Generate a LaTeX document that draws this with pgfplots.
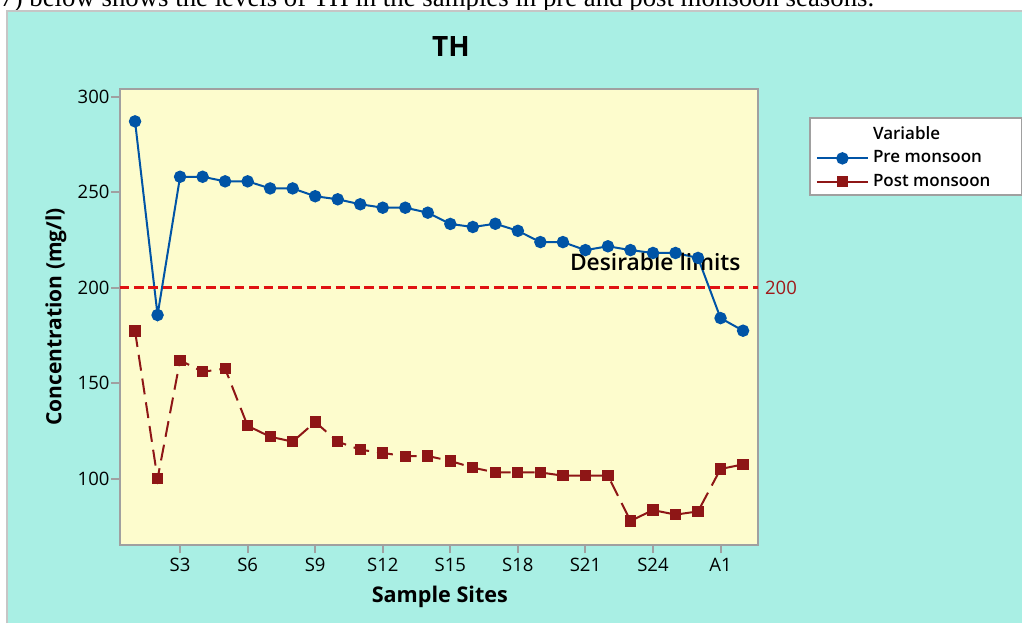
\documentclass[border=0pt]{standalone}
\usepackage{pgfplots}
\pgfplotsset{compat=1.18}
\usepackage{fontspec}
\setmainfont{Open Sans}
\newfontfamily\timesf{Liberation Serif}
\IfFontExistsTF{Open Sans SemiBold}
  {\newfontfamily\semib{Open Sans SemiBold}}
  {\IfFontExistsTF{Open Sans Semibold}
    {\newfontfamily\semib{Open Sans Semibold}}
    {\newfontfamily\semib{Open Sans}}}

\definecolor{cyanbg}{RGB}{169,239,228}
\definecolor{plotyellow}{RGB}{253,252,205}
\definecolor{preblue}{RGB}{0,84,166}
\definecolor{postred}{RGB}{142,22,22}
\definecolor{refred}{RGB}{224,18,18}
\definecolor{labelred}{RGB}{160,25,25}
\definecolor{axisgrey}{RGB}{160,160,160}

\pgfplotstableread{
x y
1 287.1
2 185.7
3 258.1
4 258.1
5 255.7
6 255.7
7 252.0
8 252.0
9 247.9
10 246.3
11 243.7
12 241.9
13 241.9
14 239.3
15 233.4
16 231.8
17 233.5
18 229.8
19 223.9
20 223.9
21 219.7
22 221.7
23 219.7
24 218.2
25 218.2
26 215.6
27 184.1
28 177.5
}\pretable

\pgfplotstableread{
x y
1 177.3
2 100.0
3 162.0
4 156.0
5 157.6
6 127.7
7 122.0
8 119.4
9 129.7
10 119.4
11 115.2
12 113.5
13 111.8
14 111.9
15 109.3
16 105.8
17 103.3
18 103.3
19 103.3
20 101.6
21 101.6
22 101.6
23 77.9
24 83.6
25 81.2
26 82.9
27 105.1
28 107.5
}\posttable

\begin{document}
\begin{tikzpicture}
\useasboundingbox (0,0) rectangle (511pt,311.5pt);
\clip (0,0) rectangle (511pt,311.5pt);
\fill[white] (0,0) rectangle (511pt,311.5pt);
\node[anchor=base west, inner sep=0pt, font=\timesf\fontsize{13.4}{16}\selectfont]
  at (0pt,308.5pt) {7) below shows the levels of TH in the samples in pre and post monsoon seasons.};
\fill[cyanbg] (3.5pt,0) rectangle (511pt,305.75pt);
\draw[gray!45, line width=1pt] (3.5pt,0) -- (3.5pt,305.75pt) -- (512pt,305.75pt);

\begin{axis}[
  at={(59.75pt,39pt)},
  anchor=south west,
  width=319.1pt,
  height=228.15pt,
  scale only axis,
  clip=false,
  xmin=0.31, xmax=28.65,
  ymin=65.3, ymax=304.2,
  axis background/.style={fill=plotyellow},
  axis line style={draw=axisgrey, line width=1pt},
  tick style={draw=axisgrey, line width=1pt},
  tick align=outside,
  tick pos=left,
  major tick length=4pt,
  xtick={3,6,9,12,15,18,21,24,27},
  xticklabels={S3,S6,S9,S12,S15,S18,S21,S24,A1},
  ytick={100,150,200,250,300},
  ticklabel style={font=\fontsize{9.25}{11}\selectfont},
  yticklabel style={xshift=2.5pt},
  xticklabel style={yshift=0.8pt},
  /pgf/number format/assume math mode=true,
  title={TH},
  title style={at={(axis description cs:0.5195,1.0447)}, anchor=base,
    font=\bfseries\fontsize{14}{16}\selectfont},
  xlabel={Sample Sites},
  xlabel style={at={(axis description cs:0.502,-0.127)}, anchor=base,
    font=\bfseries\fontsize{10.8}{13}\selectfont},
  ylabel={Concentration (mg/l)},
  ylabel style={at={(axis description cs:-0.0909,0.5)}, anchor=base, rotate=0,
    font=\bfseries\fontsize{10.5}{13}\selectfont},
  legend image code/.code={
    \draw[mark repeat=2,mark phase=2,#1,solid]
      plot coordinates {(0cm,0cm) (0.45cm,0cm) (0.9cm,0cm)};},
  legend style={at={(axis description cs:1.0804,0.938)}, anchor=north west,
    draw=axisgrey, line width=0.8pt, fill=white,
    font=\semib\fontsize{8.5}{10}\selectfont, row sep=0pt,
    inner xsep=3pt, inner ysep=1pt},
  legend cell align=left,
]
\addlegendimage{empty legend}
\addlegendentry{\rule{0pt}{8pt}Variable}

\addplot[preblue, line width=1pt, mark=*, mark size=2.6pt,
  mark options={solid, fill=preblue}] table[x=x, y=y] {\pretable};
\addlegendentry{Pre monsoon}

\addplot[postred, line width=1pt, dash pattern=on 8pt off 4pt,
  mark=square*, mark size=2.3pt, mark options={solid, fill=postred}]
  table[x=x, y=y] {\posttable};
\addlegendentry{Post monsoon\phantom{nn}}

\addplot[refred, line width=1.5pt, dash pattern=on 4.8pt off 2.4pt, forget plot]
  coordinates {(0.31,200) (28.65,200)};

\node[anchor=west, text=labelred, font=\fontsize{9.25}{11}\selectfont, inner sep=0pt]
  at (axis cs:28.65,200) {\hspace{3.5pt}200};
\node[font=\semib\fontsize{11.4}{14}\selectfont] at (axis cs:24.1,213.5) {Desirable limits};
\end{axis}
\end{tikzpicture}
\end{document}
